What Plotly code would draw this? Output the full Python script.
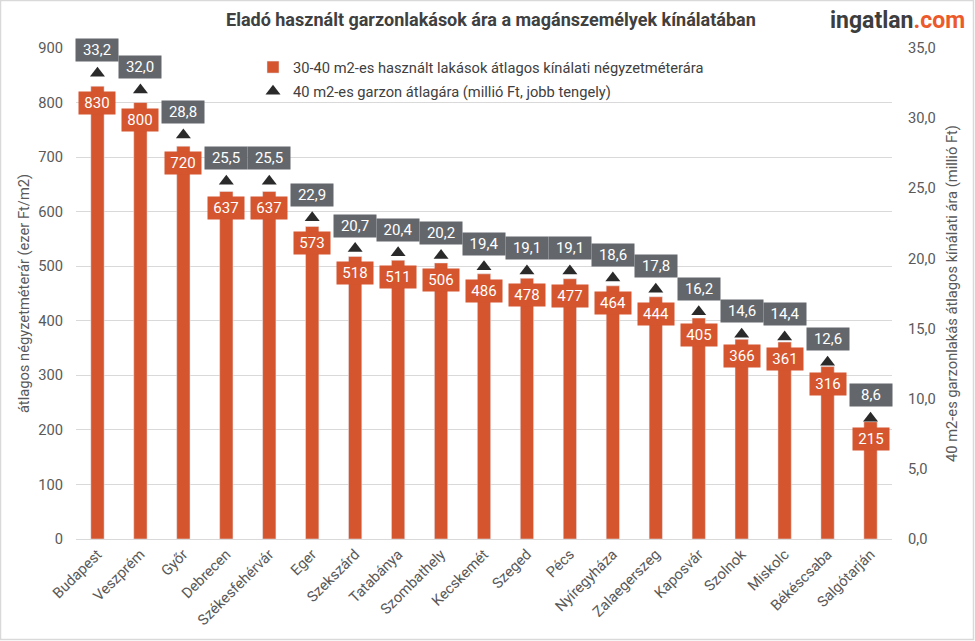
import plotly.graph_objects as go

cities = ["Budapest", "Veszprém", "Győr", "Debrecen", "Székesfehérvár", "Eger", "Szekszárd",
          "Tatabánya", "Szombathely", "Kecskemét", "Szeged", "Pécs", "Nyíregyháza",
          "Zalaegerszeg", "Kaposvár", "Szolnok", "Miskolc", "Békéscsaba", "Salgótarján"]
sqm_price = [830, 800, 720, 637, 637, 573, 518, 511, 506, 486, 478, 477, 464, 444, 405, 366, 361, 316, 215]
flat_price = [33.2, 32.0, 28.8, 25.5, 25.5, 22.9, 20.7, 20.4, 20.2, 19.4, 19.1, 19.1, 18.6, 17.8, 16.2, 14.6, 14.4, 12.6, 8.6]

left_ticks = [0, 100, 200, 300, 400, 500, 600, 700, 800, 900]
right_ticks = [0, 5, 10, 15, 20, 25, 30, 35]

ORANGE = "#d4552e"
GRAY_BOX = "#63676c"
TEXT = "#595959"
FONT = "Roboto"
FS = 14.7

W, H = 975, 641
ML, MR, MT, MB = 76, 83, 48, 102
PW, PH = W - ML - MR, H - MT - MB

fig = go.Figure()
fig.add_trace(go.Bar(
    x=cities, y=sqm_price, width=0.31, marker_color=ORANGE, legendgroup="a",
    name="30-40 m2-es használt lakások átlagos kínálati négyzetméterára",
))
fig.add_trace(go.Scatter(
    x=cities, y=flat_price, yaxis="y2", mode="markers", legendgroup="b",
    marker=dict(symbol="triangle-up", size=13, color="#2a2a2a", line=dict(width=0)),
    name="40 m2-es garzon átlagára (millió Ft, jobb tengely)",
))

ann = []
for c, v in zip(cities, sqm_price):
    ann.append(dict(x=c, y=v, xref="x", yref="y", text=str(v), showarrow=False,
                    yanchor="top", yshift=-5, bgcolor=ORANGE, width=34, height=20,
                    font=dict(family=FONT, size=15, color="white")))
for c, v in zip(cities, flat_price):
    ann.append(dict(x=c, y=v, xref="x", yref="y2", text=f"{v:.1f}".replace(".", ","),
                    showarrow=False, yanchor="bottom", yshift=11, bgcolor=GRAY_BOX,
                    width=40, height=20, font=dict(family=FONT, size=15, color="white")))
# title and logo
ann.append(dict(xref="paper", yref="paper", x=(491 - ML) / PW, y=1 + (MT - 20) / PH,
                xanchor="center", yanchor="middle", showarrow=False,
                text="<b>Eladó használt garzonlakások ára a magánszemélyek kínálatában</b>",
                font=dict(family=FONT, size=18, color="#404040")))
ann.append(dict(xref="paper", yref="paper", x=(967 - ML) / PW, y=1 + (MT - 21) / PH,
                xanchor="right", yanchor="middle", showarrow=False,
                text="<b><span style='color:#3d3d3d'>ingatlan</span><span style='color:#ec5a2c'>.com</span></b>",
                font=dict(family=FONT, size=23)))

shapes = [dict(type="rect", xref="paper", yref="paper",
               x0=-(ML - 0.5) / PW, x1=1 + (MR - 1.5) / PW,
               y0=-(MB - 1.5) / PH, y1=1 + (MT - 0.5) / PH,
               line=dict(color="#d9d9d9", width=1.5), fillcolor="rgba(0,0,0,0)", layer="below")]

fig.update_layout(
    width=W, height=H, margin=dict(l=ML, r=MR, t=MT, b=MB, autoexpand=False),
    paper_bgcolor="white", plot_bgcolor="white", separators=",.",
    font=dict(family=FONT, size=FS, color=TEXT),
    showlegend=True,
    legend=dict(x=(253 - ML) / PW, y=1 - (51 - MT) / PH, xanchor="left", yanchor="top",
                bgcolor="rgba(0,0,0,0)", font=dict(family=FONT, size=FS, color="#404040"),
                itemwidth=30, tracegroupgap=2),
    xaxis=dict(tickangle=-45, showgrid=False, showline=True, linecolor="#d9d9d9", linewidth=1,
               range=[-0.5, len(cities) - 0.5], autorange=False,
               ticks="", tickfont=dict(size=FS, color=TEXT), automargin=False),
    yaxis=dict(range=[0, 900], tickvals=left_ticks, showgrid=True, gridcolor="#d9d9d9",
               zeroline=False, ticks="", ticklabelstandoff=12, automargin=False,
               tickfont=dict(size=FS, color=TEXT),
               title=dict(text="átlagos négyzetméterár (ezer Ft/m2)", standoff=5,
                          font=dict(size=FS, color=TEXT))),
    yaxis2=dict(range=[0, 35], tickvals=right_ticks, tickformat=".1f", overlaying="y",
                side="right", showgrid=False, zeroline=False, ticks="", ticklabelstandoff=15,
                automargin=False, tickfont=dict(size=FS, color=TEXT),
                title=dict(text="40 m2-es garzonlakás átlagos kínálati ára (millió Ft)",
                           standoff=12, font=dict(size=FS, color=TEXT))),
    annotations=ann, shapes=shapes, bargap=0.69,
)

fig.write_html("out.html", config={"displayModeBar": False},
               post_script="document.body.style.margin='0';")
